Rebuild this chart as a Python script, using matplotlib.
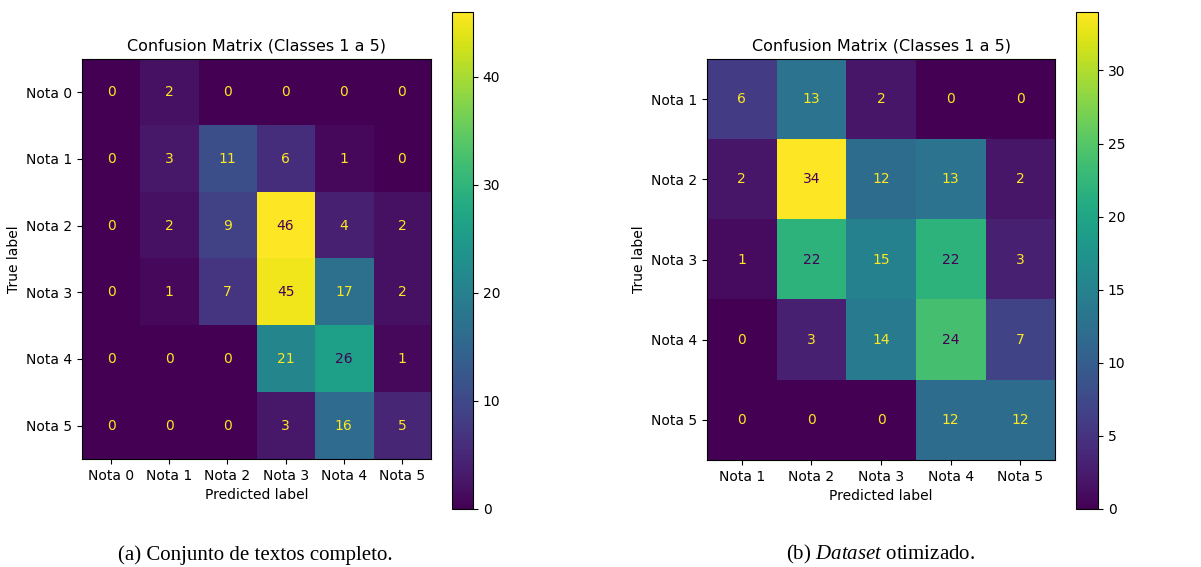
import numpy as np
import matplotlib
matplotlib.use('Agg')
import matplotlib.pyplot as plt

plt.rcParams['mathtext.fontset'] = 'custom'
plt.rcParams['mathtext.rm'] = 'Liberation Serif'
plt.rcParams['mathtext.it'] = 'Liberation Serif:italic'

labels_a = ['Nota 0', 'Nota 1', 'Nota 2', 'Nota 3', 'Nota 4', 'Nota 5']
cm_a = [[0, 2, 0, 0, 0, 0],
        [0, 3, 11, 6, 1, 0],
        [0, 2, 9, 46, 4, 2],
        [0, 1, 7, 45, 17, 2],
        [0, 0, 0, 21, 26, 1],
        [0, 0, 0, 3, 16, 5]]

labels_b = ['Nota 1', 'Nota 2', 'Nota 3', 'Nota 4', 'Nota 5']
cm_b = [[6, 13, 2, 0, 0],
        [2, 34, 12, 13, 2],
        [1, 22, 15, 22, 3],
        [0, 3, 14, 24, 7],
        [0, 0, 0, 12, 12]]

title = 'Confusion Matrix (Classes 1 a 5)'
caption_a = '(a) Conjunto de textos completo.'
caption_b = r'(b) $\mathit{Dataset}$ otimizado.'

cmap = plt.get_cmap('viridis')


def draw_cm(fig, ax_rect, cb_rect, cm, labels, cb_ticks):
    cm = np.array(cm)
    ax = fig.add_axes(ax_rect)
    cax = fig.add_axes(cb_rect)
    im = ax.imshow(cm, cmap=cmap, aspect='auto', interpolation='nearest')
    # sklearn-style text colors: light on dark cells, dark on bright cells
    thresh = (cm.max() + cm.min()) / 2.0
    for i in range(cm.shape[0]):
        for j in range(cm.shape[1]):
            color = cmap(0) if cm[i, j] > thresh else cmap(1.0)
            ax.text(j, i, str(cm[i, j]), ha='center', va='center',
                    color=color, fontsize=10)
    ax.set_xticks(range(len(labels)))
    ax.set_xticklabels(labels)
    ax.set_yticks(range(len(labels)))
    ax.set_yticklabels(labels)
    ax.set_xlabel('Predicted label')
    ax.set_ylabel('True label')
    ax.set_title(title, fontsize=11.5)
    cb = fig.colorbar(im, cax=cax)
    cb.set_ticks(cb_ticks)
    return ax


fig = plt.figure(figsize=(12.01, 5.67), dpi=100)

draw_cm(fig, [0.0683, 0.1905, 0.2906, 0.7055], [0.3764, 0.1023, 0.0175, 0.8765],
        cm_a, labels_a, [0, 10, 20, 30, 40])
draw_cm(fig, [0.5887, 0.1887, 0.2898, 0.7072], [0.8959, 0.1023, 0.0183, 0.8765],
        cm_b, labels_b, [0, 5, 10, 15, 20, 25, 30])

fig.text(0.2125, 0.013, caption_a, ha='center', va='baseline',
         family='Liberation Serif', fontsize=15)
fig.text(0.733, 0.013, caption_b, ha='center', va='baseline',
         family='Liberation Serif', fontsize=15)

fig.savefig('out.png', dpi=100)
